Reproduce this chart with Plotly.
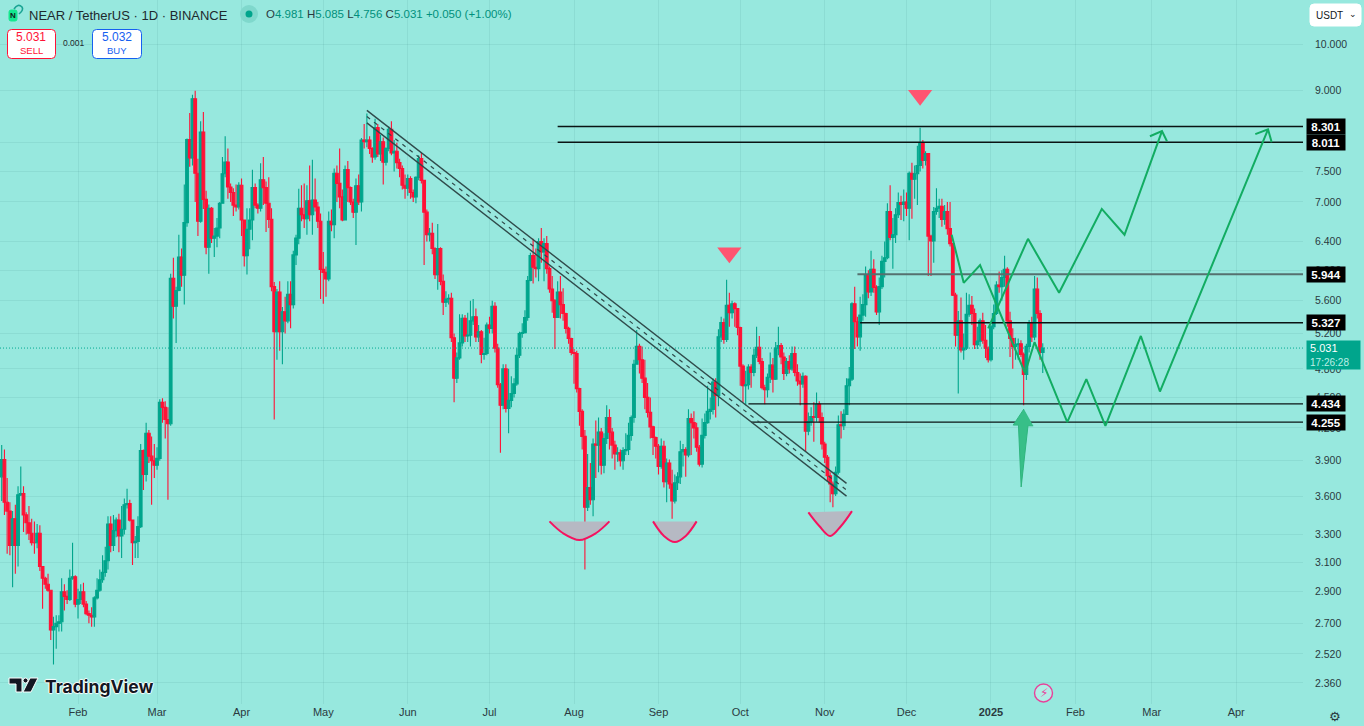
import math
import pandas as pd
import plotly.graph_objects as go

first_open = 3.76
closes = [
    3.91,3.55,3.48,3.22,3.42,3.22,3.61,3.62,3.45,3.39,
    3.31,3.24,3.24,3.31,3.07,2.99,2.95,2.91,2.66,2.68,
    2.70,2.71,2.90,2.87,2.85,2.99,3.00,2.82,2.85,2.90,
    2.82,2.76,2.75,2.74,2.86,2.91,2.98,3.03,3.11,3.38,
    3.22,3.33,3.41,3.29,3.34,3.53,3.54,3.41,3.24,3.25,
    3.36,3.99,3.78,4.15,3.94,3.90,3.86,3.92,4.45,4.40,
    4.28,4.24,5.89,5.53,5.73,6.18,5.93,6.68,8.06,7.73,
    8.84,7.47,6.70,8.20,7.04,6.32,6.90,6.45,6.48,6.60,
    6.98,7.46,7.66,7.24,7.15,6.95,6.92,7.27,6.72,6.20,
    6.58,6.72,7.23,6.95,6.90,7.36,7.23,6.98,6.73,5.78,
    5.22,5.71,5.22,5.46,5.35,5.68,5.55,6.21,6.45,6.90,
    6.80,6.74,7.02,6.80,7.03,6.92,6.70,6.01,5.97,5.88,
    6.70,6.65,7.47,7.30,7.08,6.72,7.53,7.23,7.00,6.84,
    7.26,7.00,8.05,8.02,8.05,7.90,7.75,8.28,7.80,8.02,
    7.66,7.90,8.25,7.82,7.85,7.65,7.55,7.27,7.22,7.38,
    7.15,7.08,7.40,7.72,7.35,6.84,6.50,6.52,6.30,5.94,
    6.30,5.85,5.58,5.62,5.63,5.15,4.70,4.92,5.09,5.38,
    5.17,5.18,5.35,5.40,5.16,5.22,4.96,4.97,5.30,5.26,
    5.53,5.03,4.63,4.42,4.80,4.39,4.47,4.54,4.64,4.95,
    5.20,5.21,5.39,5.86,6.20,6.04,6.02,6.40,6.25,6.37,
    6.02,5.75,5.60,5.39,5.71,5.55,5.44,5.26,5.14,4.98,
    4.97,4.59,4.36,4.12,3.51,3.67,3.57,4.05,4.04,4.16,
    3.86,4.10,4.30,4.16,4.04,3.96,3.97,3.90,3.99,4.00,
    4.13,4.30,4.85,5.05,4.90,4.70,4.50,4.35,4.21,4.11,
    4.03,3.85,4.03,3.72,3.88,3.70,3.56,3.71,3.76,3.98,
    4.00,3.95,4.29,4.25,4.20,4.02,3.87,4.13,4.25,4.36,
    4.38,4.66,4.52,5.16,5.33,5.13,5.54,5.45,5.56,5.50,
    5.27,4.83,4.62,4.63,4.82,4.76,4.95,5.04,4.88,4.60,
    4.58,4.71,4.84,4.69,5.03,5.06,4.93,4.75,4.88,4.80,
    4.97,4.76,4.67,4.64,4.72,4.17,4.26,4.31,4.30,4.43,
    4.30,4.05,3.93,3.77,3.70,3.62,3.80,4.23,4.22,4.33,
    4.62,4.69,5.56,5.34,5.16,5.42,5.55,5.93,5.71,6.01,
    5.77,5.46,5.78,6.12,6.17,6.85,6.46,6.50,6.80,6.99,
    6.96,7.00,6.90,7.47,7.37,7.46,7.60,8.00,7.69,7.81,
    6.48,6.41,6.85,6.90,6.93,6.73,6.85,6.59,6.37,5.67,
    5.18,5.35,5.01,5.03,5.43,5.54,5.44,5.07,5.11,5.35,
    5.12,5.03,4.90,5.28,5.44,5.80,5.78,5.90,6.01,5.35,
    5.14,5.05,5.07,5.08,4.96,4.74,5.05,5.32,5.16,5.75,
    5.44,4.981,5.031,
]
highs = [
    4.04,4.00,3.75,3.55,3.48,3.53,3.68,3.85,3.68,3.47,
    3.52,3.42,3.40,3.38,3.37,3.07,3.00,3.02,2.91,2.74,
    2.75,2.75,2.99,2.95,2.91,3.05,3.24,3.01,2.92,2.95,
    2.96,2.84,2.78,2.80,2.87,2.99,3.05,3.15,3.21,3.44,
    3.44,3.45,3.43,3.46,3.52,3.58,3.66,3.57,3.41,3.29,
    3.44,4.05,4.00,4.25,4.18,4.12,4.05,4.02,4.48,4.49,
    4.46,4.40,5.95,6.17,5.78,6.50,6.30,7.28,8.08,8.56,
    8.92,9.00,7.72,8.40,8.58,7.18,6.96,6.92,6.60,6.75,
    7.00,7.75,8.12,7.90,7.30,7.22,7.28,7.32,7.38,6.72,
    6.90,6.90,7.53,7.30,6.98,7.64,7.75,7.33,7.40,6.90,
    5.84,5.75,5.85,5.52,5.65,5.85,5.85,6.27,6.50,7.21,
    7.27,7.30,7.27,7.60,7.70,7.38,7.00,6.82,6.25,6.05,
    6.85,6.88,7.55,7.60,7.90,7.20,7.60,7.68,7.25,7.05,
    7.38,7.45,8.09,8.35,8.55,8.12,7.92,8.45,8.35,8.15,
    8.10,7.92,8.30,8.40,8.05,8.00,7.72,7.60,7.45,7.45,
    7.42,7.20,7.42,7.78,7.82,7.35,6.88,6.60,6.68,6.32,
    6.66,6.32,5.94,5.72,5.68,5.70,5.20,4.98,5.43,5.43,
    5.42,5.45,5.60,5.62,5.50,5.30,5.24,5.15,5.33,5.40,
    5.60,5.58,5.08,4.65,4.85,4.85,4.80,4.72,4.70,5.03,
    5.22,5.32,5.48,5.92,6.24,6.44,6.30,6.45,6.60,6.45,
    6.48,6.05,5.92,5.62,5.85,5.92,5.76,5.45,5.28,5.15,
    5.02,5.00,4.60,4.38,4.18,3.96,3.88,4.10,4.27,4.30,
    4.20,4.15,4.42,4.38,4.20,4.08,4.02,4.00,4.02,4.15,
    4.25,4.32,4.90,5.24,5.08,5.05,4.90,4.65,4.50,4.22,
    4.12,4.05,4.10,4.08,3.92,3.91,3.82,3.78,3.80,4.08,
    4.05,4.02,4.38,4.34,4.36,4.25,4.04,4.29,4.34,4.62,
    4.50,4.70,4.70,5.25,5.40,5.38,5.87,5.70,5.60,5.58,
    5.50,5.28,4.85,4.78,4.85,4.85,5.02,5.28,5.17,4.92,
    4.63,4.75,4.98,4.92,5.10,5.28,5.09,4.98,4.92,4.95,
    5.05,5.05,4.85,4.75,4.76,4.73,4.35,4.40,4.45,4.55,
    4.46,4.35,4.07,3.95,3.80,3.72,3.85,4.32,4.36,4.38,
    4.70,4.82,5.58,5.78,5.40,5.65,5.68,6.05,6.00,6.27,
    6.15,5.80,5.90,6.20,6.40,6.98,7.27,6.75,6.90,7.15,
    7.10,7.20,7.15,7.50,7.65,7.60,7.95,8.28,8.05,7.85,
    7.82,6.50,6.92,7.22,7.05,7.05,6.95,7.00,7.00,6.38,
    5.70,5.47,5.64,5.20,5.70,5.68,5.66,5.50,5.28,5.38,
    5.45,5.30,5.05,5.30,5.55,5.85,5.98,6.00,6.20,6.04,
    5.46,5.26,5.15,5.14,5.12,4.98,5.08,5.36,5.40,5.92,
    5.90,5.48,5.085,
]
lows = [
    3.56,3.45,3.16,3.15,2.93,3.02,3.07,3.60,3.32,3.30,
    3.26,3.22,3.16,3.20,3.04,2.79,2.92,2.90,2.60,2.46,
    2.55,2.65,2.65,2.78,2.82,2.84,2.98,2.80,2.73,2.82,
    2.80,2.75,2.70,2.68,2.68,2.85,2.90,2.96,3.00,3.05,
    3.17,3.18,3.28,3.17,3.13,3.30,3.50,3.40,3.08,3.13,
    3.13,3.35,3.65,3.72,3.88,3.53,3.75,3.82,3.90,4.25,
    4.10,3.57,4.22,5.38,5.09,5.72,5.78,5.55,6.62,7.58,
    7.60,7.00,6.48,6.68,6.89,6.22,5.95,6.38,6.18,6.32,
    6.45,6.98,7.40,7.05,7.00,6.78,6.85,6.88,6.48,6.05,
    5.94,6.29,6.42,6.90,6.82,6.85,6.95,6.54,6.60,5.72,
    4.28,4.90,5.00,4.85,5.20,5.32,5.26,5.50,6.07,6.36,
    6.70,6.60,6.50,6.70,6.50,6.85,6.60,5.62,5.56,5.65,
    5.85,6.55,6.45,7.00,6.90,6.70,6.72,7.00,6.95,6.75,
    6.35,6.95,6.85,7.90,7.92,7.80,7.65,7.70,7.75,7.68,
    7.28,7.60,7.85,7.78,7.50,7.55,7.40,7.20,7.05,7.10,
    7.05,7.00,6.98,7.35,7.30,6.07,6.40,6.40,6.22,5.88,
    5.74,5.80,5.42,5.52,5.55,5.10,4.45,4.65,4.90,5.05,
    5.10,5.10,5.05,5.30,5.10,5.10,4.86,4.90,4.95,5.20,
    5.20,4.98,4.60,3.97,4.38,4.35,4.15,4.40,4.50,4.62,
    4.92,5.15,5.20,5.35,5.85,5.82,5.90,5.85,6.10,5.85,
    5.95,5.70,5.45,5.02,5.39,5.38,5.35,5.20,5.08,4.95,
    4.64,4.55,4.22,4.00,3.05,3.48,3.53,3.44,3.75,3.80,
    3.78,3.79,4.05,4.00,3.92,3.82,3.89,3.85,3.82,3.95,
    3.95,4.08,4.25,4.85,4.75,4.65,4.38,4.30,4.10,3.95,
    3.92,3.78,3.83,3.67,3.55,3.66,3.42,3.54,3.65,3.70,
    3.85,3.76,3.93,3.95,4.10,3.98,3.85,3.84,4.10,4.24,
    4.28,4.33,4.30,4.41,5.10,5.08,5.10,5.28,5.38,5.28,
    5.18,4.62,4.45,4.42,4.58,4.60,4.72,4.92,4.85,4.58,
    4.43,4.50,4.65,4.55,4.68,4.95,4.85,4.68,4.72,4.75,
    4.78,4.72,4.62,4.42,4.60,3.98,4.13,4.22,4.07,4.26,
    4.25,4.00,3.88,3.72,3.55,3.51,3.60,3.78,4.10,4.18,
    4.33,4.42,4.67,5.02,5.05,5.00,5.35,5.40,5.63,5.66,
    5.70,5.42,5.30,5.75,5.90,6.15,6.42,6.02,6.38,6.75,
    6.72,6.70,6.78,6.42,6.74,7.05,6.95,7.50,7.55,7.60,
    5.92,5.92,6.10,6.80,6.75,6.62,6.65,6.50,6.33,5.66,
    5.05,4.54,4.98,4.90,5.01,5.40,5.30,5.02,5.02,5.05,
    5.08,4.92,4.87,4.88,5.25,5.42,5.70,5.60,5.78,5.28,
    4.93,4.80,4.90,4.90,4.93,4.42,4.68,4.98,5.10,5.12,
    5.38,4.90,4.756,
]
assert len(closes) == len(highs) == len(lows)
opens = [first_open] + closes[:-1]
dates = pd.date_range("2024-01-04", periods=len(closes), freq="D")

# axis
x_start, x_end = "2024-01-03 09:00", "2025-04-25 12:00"
price_ticks = [10, 9, 8, 7.5, 7, 6.4, 6, 5.6, 5.2, 4.8, 4.5, 4.2, 3.9, 3.6, 3.3, 3.1, 2.9, 2.7, 2.52, 2.36]
month_ticks = ["2024-02-01", "2024-03-01", "2024-04-01", "2024-05-01", "2024-06-01", "2024-07-01", "2024-08-01",
               "2024-09-01", "2024-10-01", "2024-11-01", "2024-12-01", "2025-01-01", "2025-02-01", "2025-03-01", "2025-04-01"]
month_labels = ["Feb", "Mar", "Apr", "May", "Jun", "Jul", "Aug", "Sep", "Oct", "Nov", "Dec", "<b>2025</b>", "Feb", "Mar", "Apr"]

# drawings on the chart
last_price = 5.031
levels = [8.301, 8.011, 5.944, 5.327, 4.434, 4.255]
level_starts = ["2024-07-26", "2024-07-26", "2024-11-13", "2024-11-14", "2024-10-04", "2024-10-05"]
channel_x = ["2024-05-17", "2024-11-09"]
channel_top = [8.61, 3.705]
channel_mid = [8.49, 3.65]
channel_low = [8.37, 3.60]

path_a_x = ["2024-12-17 14:00", "2024-12-22", "2024-12-28", "2025-01-13 12:00", "2025-01-17", "2025-01-29", "2025-02-05",
            "2025-02-12", "2025-02-25", "2025-03-04", "2025-04-12 16:00"]
path_a_y = [6.50, 5.83, 6.07, 4.755, 5.10, 4.255, 4.69, 4.22, 5.17, 4.56, 8.25]
head_a_x = ["2025-04-08", "2025-04-12 16:00", "2025-04-14"]
head_a_y = [8.16, 8.25, 8.01]
path_b_x = ["2024-12-31", "2025-01-14 14:00", "2025-01-26", "2025-02-10 16:00", "2025-02-19", "2025-03-04 18:00"]
path_b_y = [5.26, 6.44, 5.70, 6.89, 6.50, 8.215]
head_b_x = ["2025-02-28 08:00", "2025-03-04 18:00", "2025-03-06 14:00"]
head_b_y = [8.12, 8.215, 8.03]

arrow_x = ["2025-01-13 02:00", "2025-01-09 04:00", "2025-01-11 02:00", "2025-01-12 02:00", "2025-01-14 14:00", "2025-01-16 12:00"]
arrow_y = [4.383, 4.227, 4.227, 3.675, 4.22, 4.22]

marker_x = ["2024-09-27", "2024-12-06"]
marker_y = [6.24, 8.91]

cups_x = [
    ["2024-07-23", "2024-07-28", "2024-08-03", "2024-08-09", "2024-08-14"],
    ["2024-08-30", "2024-09-03", "2024-09-07", "2024-09-11", "2024-09-15"],
    ["2024-10-26", "2024-10-30", "2024-11-03", "2024-11-07", "2024-11-11"],
]
cups_y = [
    [3.40, 3.31, 3.26, 3.31, 3.40],
    [3.40, 3.29, 3.245, 3.29, 3.40],
    [3.47, 3.365, 3.29, 3.365, 3.48],
]

GREEN = "#00A58C"
RED = "#FF1236"
BG = "#97E8DE"
DRAW = "#12AC62"
TEXT = "#2A3A3E"
FONT = "Liberation Sans"
W, H = 1303.0, 704.0  # plot area in px


def px(x):
    return x / W


def py(y):
    return 1 - y / H


def round_box(x0, y0, x1, y1, r, line, fill):
    path = (f"M {px(x0 + r)} {py(y0)} L {px(x1 - r)} {py(y0)} Q {px(x1)} {py(y0)} {px(x1)} {py(y0 + r)} "
            f"L {px(x1)} {py(y1 - r)} Q {px(x1)} {py(y1)} {px(x1 - r)} {py(y1)} "
            f"L {px(x0 + r)} {py(y1)} Q {px(x0)} {py(y1)} {px(x0)} {py(y1 - r)} "
            f"L {px(x0)} {py(y0 + r)} Q {px(x0)} {py(y0)} {px(x0 + r)} {py(y0)} Z")
    return dict(type="path", xref="paper", yref="paper", path=path, fillcolor=fill,
                line=dict(color=line, width=1), layer="above")


def label(x, y, text, size=11, color=TEXT, anchor="left", family=FONT, **kw):
    return dict(xref="paper", yref="paper", x=px(x), y=py(y), text=text, showarrow=False, xanchor=anchor,
                yanchor="middle", font=dict(size=size, color=color, family=family), **kw)


fig = go.Figure()
fig.add_trace(go.Candlestick(
    x=dates, open=opens, high=highs, low=lows, close=closes, whiskerwidth=0,
    increasing=dict(line=dict(color=GREEN, width=1.1), fillcolor=GREEN),
    decreasing=dict(line=dict(color=RED, width=1.1), fillcolor=RED),
    showlegend=False, hoverinfo="skip",
))


def line(x, y, color=DRAW, width=2, dash="solid"):
    fig.add_trace(go.Scatter(x=x, y=y, mode="lines", line=dict(color=color, width=width, dash=dash),
                             showlegend=False, hoverinfo="skip"))


line([x_start, x_end], [last_price, last_price], color="#00A993", width=1, dash="1px,2px")

for lvl, start in zip(levels, level_starts):
    if lvl == 5.944:
        line([start, x_end], [lvl, lvl], color="#55716F", width=2)
    else:
        line([start, x_end], [lvl, lvl], color="#0A1414", width=1.4)

line(channel_x, channel_top, color="#2F4A4A", width=1.4)
line(channel_x, channel_low, color="#2F4A4A", width=1.4)
line(channel_x, channel_mid, color="#2F4A4A", width=1.2, dash="4px,5px")

line(path_a_x, path_a_y)
line(head_a_x, head_a_y)
line(path_b_x, path_b_y)
line(head_b_x, head_b_y)

fig.add_trace(go.Scatter(x=arrow_x, y=arrow_y, mode="lines", fill="toself", fillcolor="#37BF88",
                         line=dict(color="#2FB57E", width=1), showlegend=False, hoverinfo="skip"))

fig.add_trace(go.Scatter(x=marker_x, y=marker_y, mode="markers", showlegend=False, hoverinfo="skip",
                         marker=dict(symbol="triangle-down", size=21, color="#FF5470", line=dict(width=0))))

for cx, cy in zip(cups_x, cups_y):
    fig.add_trace(go.Scatter(x=cx, y=cy, mode="lines", fill="toself", fillcolor="#B6B9C3",
                             line=dict(width=0, shape="spline"), showlegend=False, hoverinfo="skip"))
    fig.add_trace(go.Scatter(x=cx, y=cy, mode="lines", line=dict(color="#F5125F", width=2, shape="spline"),
                             showlegend=False, hoverinfo="skip"))

annotations = []

# price tags on the right
for lvl in levels:
    annotations.append(dict(xref="paper", yref="y", x=px(1326), y=math.log10(lvl), text=f"<b>{lvl:.3f}</b>",
                            xanchor="center", yanchor="middle", showarrow=False, bgcolor="#000000", width=38,
                            height=15, borderpad=0, font=dict(size=11.5, color="#FFFFFF", family=FONT)))
annotations.append(dict(xref="paper", yref="paper", x=px(1333.5), y=py(355), xanchor="center", yanchor="middle",
                        showarrow=False, bgcolor=GREEN, width=53, height=28, borderpad=0, align="left",
                        text='\u00a05.031<br>\u00a0<span style="font-size:10px;color:#BDEFE6">17:26:28</span>',
                        font=dict(size=11, color="#FFFFFF", family=FONT)))

# header
annotations.append(label(27, 15, "NEAR / TetherUS · 1D · BINANCE", size=13, color="#1E2A2E"))
annotations.append(label(264, 14,
                         'O<span style="color:#00907C">4.981</span> H<span style="color:#00907C">5.085</span> '
                         'L<span style="color:#00907C">4.756</span> C<span style="color:#00907C">5.031</span> '
                         '<span style="color:#00907C">+0.050 (+1.00%)</span>', size=11.5))
annotations.append(label(31, 37, "5.031", size=12, color="#FF1236", anchor="center"))
annotations.append(label(31, 50, "SELL", size=9.5, color="#FF1236", anchor="center"))
annotations.append(label(117, 37, "5.032", size=12, color="#1560F0", anchor="center"))
annotations.append(label(117, 50, "BUY", size=9.5, color="#1560F0", anchor="center"))
annotations.append(label(74, 43, "0.001", size=8.5, color="#1E2A2E", anchor="center"))
annotations.append(label(13, 16, "<b>N</b>", size=8, color="#10201A", anchor="center"))
annotations.append(label(1314, 15, "USDT", size=10, color="#131722"))
annotations.append(label(1353, 14, "⌄", size=9, color="#131722", anchor="center", family="DejaVu Sans"))

# bottom logo and small icons
annotations.append(dict(xref="paper", yref="paper", x=px(43), y=py(686), xanchor="left", yanchor="middle",
                        showarrow=False, text="<b>TradingView</b>",
                        font=dict(size=17.5, color="#131722", family="Inter", shadow="1px 0 1px #fff, -1px 0 1px #fff, 0 1px 1px #fff, 0 -1px 1px #fff")))
annotations.append(label(1043.5, 692.5, "⚡", size=12, color="#E8409A", anchor="center", family="DejaVu Sans"))
annotations.append(label(1335, 716, "⚙", size=13, color=TEXT, anchor="center", family="DejaVu Sans"))

shapes = [
    round_box(7.5, 29.5, 55.5, 58.5, 4, "#FF1236", "#FFFFFF"),
    round_box(92.5, 29.5, 141.5, 58.5, 4, "#1560F0", "#FFFFFF"),
    round_box(1310, 4, 1361, 26, 4, "#FFFFFF", "#FFFFFF"),
    round_box(9, 10, 17, 21, 2, "#14E88F", "#14E88F"),
    dict(type="path", xref="paper", yref="paper", layer="above", line=dict(color="#1AA393", width=1.6),
         path=f"M {px(14)} {py(9)} Q {px(18)} {py(3)} {px(22)} {py(7)} Q {px(24)} {py(10)} {px(19)} {py(14)}"),
    dict(type="circle", xref="paper", yref="paper", x0=px(240), x1=px(258), y0=py(5), y1=py(23),
         fillcolor="#7FD8CC", line=dict(width=0), layer="above"),
    dict(type="circle", xref="paper", yref="paper", x0=px(245.5), x1=px(252.5), y0=py(10.5), y1=py(17.5),
         fillcolor="#00A58C", line=dict(width=0), layer="above"),
    dict(type="circle", xref="paper", yref="paper", x0=px(1034.5), x1=px(1052.5), y0=py(684), y1=py(702),
         fillcolor="rgba(255,255,255,0.25)", line=dict(color="#E8409A", width=1.4), layer="above"),
    # TradingView mark
    dict(type="path", xref="paper", yref="paper", layer="above", fillcolor="#131722",
         line=dict(color="#FFFFFF", width=1),
         path=f"M {px(9)} {py(678)} L {px(22)} {py(678)} L {px(22)} {py(692)} L {px(16)} {py(692)} L {px(16)} {py(684)} "
              f"L {px(9)} {py(684)} Z"),
    dict(type="circle", xref="paper", yref="paper", layer="above", fillcolor="#131722",
         line=dict(color="#FFFFFF", width=1), x0=px(23), x1=px(28), y0=py(678), y1=py(683)),
    dict(type="path", xref="paper", yref="paper", layer="above", fillcolor="#131722",
         line=dict(color="#FFFFFF", width=1),
         path=f"M {px(30)} {py(678)} L {px(38)} {py(678)} L {px(31)} {py(692)} L {px(23)} {py(692)} Z"),
]

fig.update_layout(
    width=1364, height=726, margin=dict(l=0, r=61, t=0, b=22),
    paper_bgcolor=BG, plot_bgcolor=BG, boxgap=0, boxgroupgap=0,
    font=dict(family=FONT, size=11, color=TEXT),
    annotations=annotations, shapes=shapes, showlegend=False,
    xaxis=dict(type="date", range=[x_start, x_end], rangeslider=dict(visible=False), tickmode="array",
               tickvals=month_ticks, ticktext=month_labels, ticks="", showline=False, zeroline=False,
               gridcolor="rgba(0,70,70,0.07)", gridwidth=1, tickfont=dict(size=11, color=TEXT)),
    yaxis=dict(type="log", range=[math.log10(2.25), math.log10(11.05)], side="right", tickmode="array",
               tickvals=price_ticks, ticktext=[f"{t:.3f}" for t in price_ticks], ticks="", showline=False,
               zeroline=False, gridcolor="rgba(0,70,70,0.07)", gridwidth=1, tickfont=dict(size=10.5, color=TEXT),
               ticklabelstandoff=11),
)

fig.write_html("out.html", config={"displayModeBar": False}, post_script="document.body.style.margin='0';")
